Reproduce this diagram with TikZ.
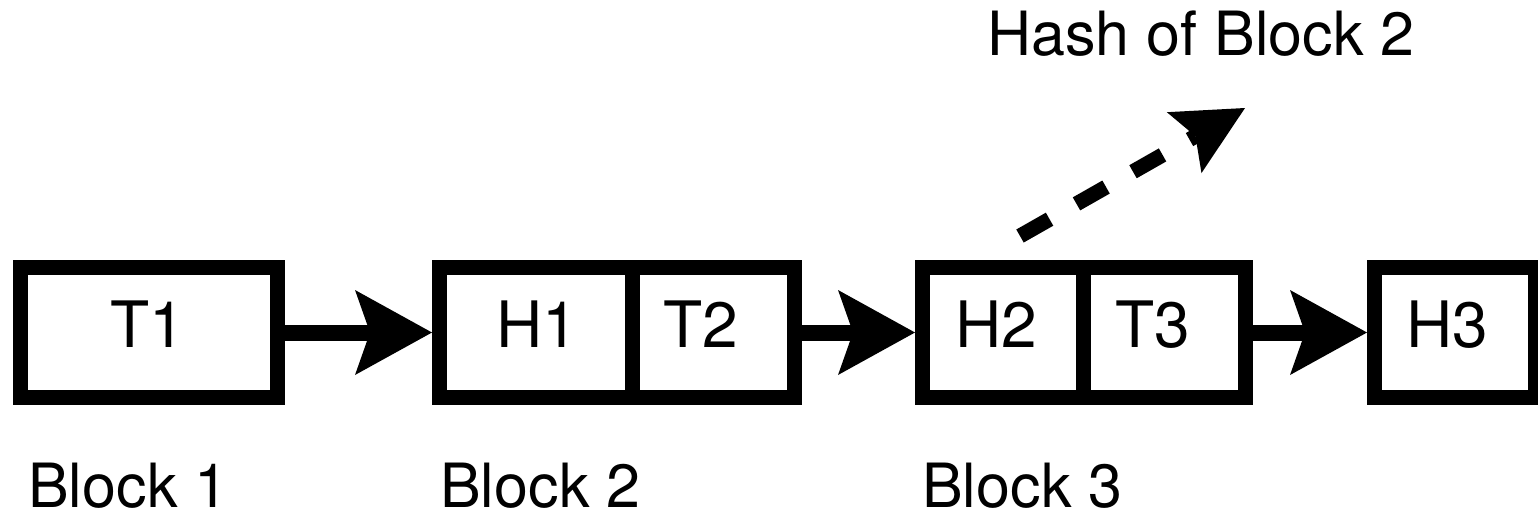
\documentclass[tikz,border=0pt]{standalone}
\usepackage{fontspec}
\setmainfont{TeX Gyre Heros}
\usetikzlibrary{arrows.meta}

\tikzset{
  cell/.style={draw, line width=15pt, minimum height=130pt, inner sep=0pt},
  celltext/.style={anchor=base, inner sep=0pt, font=\fontsize{64}{70}\selectfont},
  caption/.style={anchor=base west, inner sep=0pt, text depth=0pt,
    font=\fontsize{61}{67}\selectfont},
  link/.style={line width=16pt,
    -{Stealth[length=77pt, width=85pt, inset=15pt, line width=0pt]}},
  hashlink/.style={line width=15pt, dash pattern=on 34pt off 31pt,
    -{Stealth[length=70pt, width=70pt, inset=13pt, line width=0pt]}}
}

\begin{document}
\begin{tikzpicture}[x=1pt, y=-1pt]
  \useasboundingbox (0,0) rectangle (1538,515);

  % Block 1
  \node[cell, minimum width=257pt] (b1) at (149,332.5) {};
  % Block 2
  \node[cell, minimum width=193pt] (h1) at (536,332.5) {};
  \node[cell, minimum width=162pt] (t2) at (713.5,332.5) {};
  % Block 3
  \node[cell, minimum width=161pt] (h2) at (1003,332.5) {};
  \node[cell, minimum width=162pt] (t3) at (1164.5,332.5) {};
  % next block
  \node[cell, minimum width=161pt] (h3) at (1455,332.5) {};

  % cell contents
  \node[celltext] (l1)  at (148,347)  {T1};
  \node[celltext] (lh1) at (537,347)  {H1};
  \node[celltext] (lt2) at (701,347)  {T2};
  \node[celltext] (lh2) at (996,347)  {H2};
  \node[celltext] (lt3) at (1153,347) {T3};
  \node[celltext] (lh3) at (1447,347) {H3};

  % block captions
  \node[caption] (c1) at (28,507)  {Block 1};
  \node[caption] (c2) at (440,507) {Block 2};
  \node[caption] (c3) at (922,507) {Block 3};
  \node[caption] (hash) at (987,55) {Hash of Block 2};

  % chain links
  \draw[link] (b1.east) -- (h1.west);
  \draw[link] (t2.east) -- (h2.west);
  \draw[link] (t3.east) -- (h3.west);

  % hash pointer
  \coordinate (hs) at (1020,236);
  \coordinate (he) at (1245,108);
  \draw[hashlink] (hs) -- (he);
\end{tikzpicture}
\end{document}
